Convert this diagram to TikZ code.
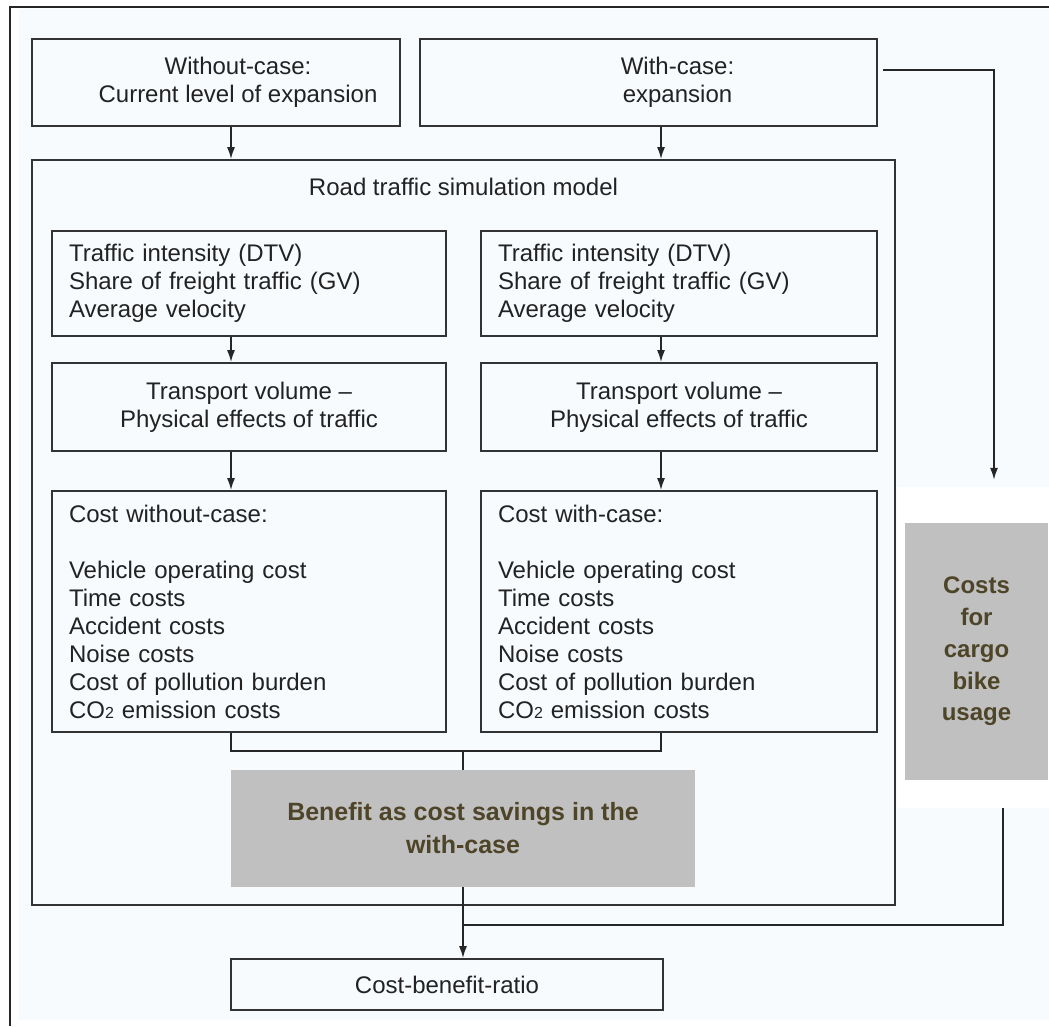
\documentclass[tikz,border=0pt]{standalone}
\usepackage{fontspec}
\setmainfont{Liberation Sans}
\usetikzlibrary{arrows.meta}
\definecolor{bgblue}{RGB}{247,251,254}
\definecolor{boxgray}{RGB}{192,192,192}
\definecolor{txtdark}{RGB}{34,34,34}
\definecolor{txtolive}{RGB}{78,68,40}

\begin{document}
\begin{tikzpicture}[x=1pt, y=-1pt,
		font=\fontsize{24}{28}\selectfont, text=txtdark,
		framebox/.style={draw=black!80, line width=1.8pt, inner sep=0pt},
		listbox/.style={framebox, align=left, inner xsep=17pt, inner ysep=0pt},
		graybox/.style={fill=boxgray, text=txtolive, align=center, inner sep=0pt,
			font=\bfseries\fontsize{25}{33}\selectfont},
		link/.style={black!85, line width=1.6pt},
		arr/.style={link, -{Latex[length=12pt,width=8pt]}}]
		% 背景与外框
		\useasboundingbox (0,0) rectangle (1049,1026);
		\fill[bgblue] (19,9) rectangle (1049,1020);
		\draw[link] (10,1026) -- (10,7) -- (1049,7);

		% 两种情形
		\node[framebox, minimum width=368pt, minimum height=87pt,
			label={[xshift=22pt, align=center]center:{Without-case:\\Current level of expansion}}] (without) at (216,82.5) {};
		\node[framebox, minimum width=457pt, minimum height=87pt,
			label={[xshift=29pt, align=center]center:{With-case:\\expansion}}] (with) at (648.5,82.5) {};

		% 道路交通仿真模型
		\node[framebox, minimum width=863pt, minimum height=745pt] (model) at (463.5,532.5) {};
		\node (modeltitle) at (463.5,187) {Road traffic simulation model};

		% 左列: 无项目情形
		\node[listbox, text width=360pt, minimum height=105pt] (traf1) at (249,283.5) {Traffic intensity (DTV)\\Share of freight traffic (GV)\\Average velocity};
		\node[framebox, align=center, minimum width=394pt, minimum height=88pt] (trans1) at (249,407) {Transport volume --\\Physical effects of traffic};
		\node[listbox, text width=360pt, minimum height=241pt] (cost1) at (249,611.5) {Cost without-case:\\[28pt]Vehicle operating cost\\Time costs\\Accident costs\\Noise costs\\Cost of pollution burden\\CO{\fontsize{16}{16}\selectfont 2} emission costs};

		% 右列: 有项目情形
		\node[listbox, text width=362pt, minimum height=105pt] (traf2) at (679,283.5) {Traffic intensity (DTV)\\Share of freight traffic (GV)\\Average velocity};
		\node[framebox, align=center, minimum width=396pt, minimum height=88pt] (trans2) at (679,407) {Transport volume --\\Physical effects of traffic};
		\node[listbox, text width=362pt, minimum height=241pt] (cost2) at (679,611.5) {Cost with-case:\\[28pt]Vehicle operating cost\\Time costs\\Accident costs\\Noise costs\\Cost of pollution burden\\CO{\fontsize{16}{16}\selectfont 2} emission costs};

		% 效益与货运自行车成本
		\node[graybox, minimum width=464pt, minimum height=117pt] (benefit) at (463,828.5) {Benefit as cost savings in the\\with-case};
		\node[fill=white, minimum width=152pt, minimum height=321pt] (cargobg) at (973,647.5) {};
		\node[graybox, font=\bfseries\fontsize{24}{31.7}\selectfont, minimum width=143pt, minimum height=257pt] (cargo) at (976.5,651.5) {Costs\\for\\cargo\\bike\\usage};

		% 成本效益比
		\node[framebox, minimum width=432pt, minimum height=51pt] (ratio) at (447,984.5) {Cost-benefit-ratio};

		% 连线
		\draw[arr] ([xshift=15pt]without.south) -- ([xshift=15pt]without.south |- model.north);
		\draw[arr] ([xshift=12.5pt]with.south) -- ([xshift=12.5pt]with.south |- model.north);
		\draw[arr] ([xshift=-18pt]traf1.south) -- ([xshift=-18pt]trans1.north);
		\draw[arr] ([xshift=-18pt]trans1.south) -- ([xshift=-18pt]cost1.north);
		\draw[arr] ([xshift=-18pt]traf2.south) -- ([xshift=-18pt]trans2.north);
		\draw[arr] ([xshift=-18pt]trans2.south) -- ([xshift=-18pt]cost2.north);
		\coordinate (merge) at (463,751);
		\draw[link] ([xshift=-18pt]cost1.south) |- (merge) -| ([xshift=-18pt]cost2.south);
		\draw[link] (merge) -- (benefit.north);
		\coordinate (join) at (463,925);
		\draw[arr] (benefit.south) -- (benefit.south |- ratio.north);
		\draw[link] ([xshift=30pt]cargobg.south) |- (join);
		\draw[arr] ([xshift=5pt,yshift=12.5pt]with.east) -| ([xshift=21pt,yshift=7pt]cargobg.north);
	\end{tikzpicture}
\end{document}
